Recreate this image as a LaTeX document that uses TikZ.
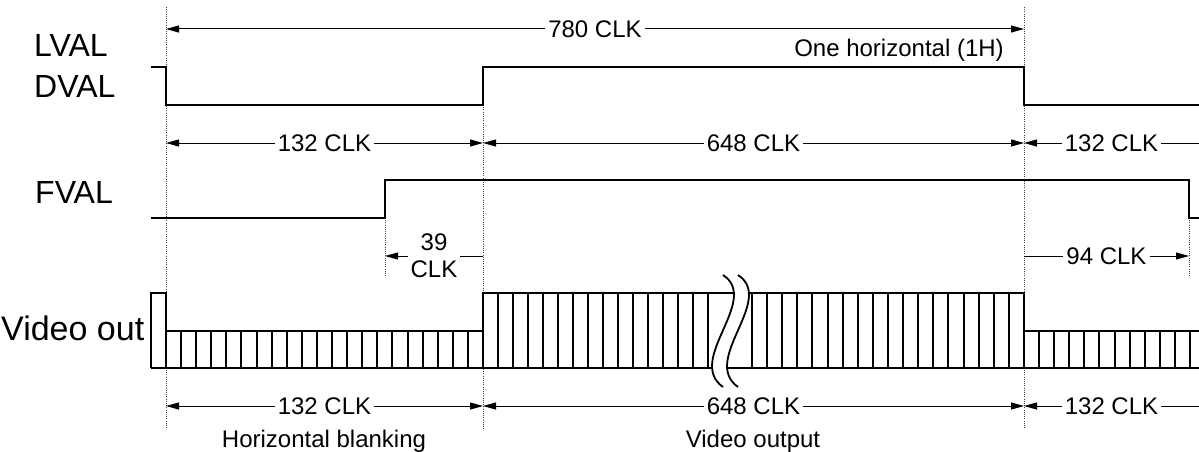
\documentclass[tikz,border=0pt]{standalone}
\usepackage{fontspec}
\setmainfont{Liberation Sans}
\usetikzlibrary{arrows.meta}
\begin{document}
\begin{tikzpicture}[x=1pt,y=-1pt,
  sig/.style={line width=2pt, line join=miter},
  box/.style={line width=2pt},
  dotline/.style={line width=0.8pt, black!75, dash pattern=on 1pt off 1.2pt},
  tipA/.tip={Triangle[length=13pt,width=7pt]},
  dimboth/.style={line width=1pt, tipA-tipA},
  dimleft/.style={line width=1pt, tipA-},
  dimright/.style={line width=1pt, -tipA},
  lab/.style={fill=white, inner xsep=3pt, inner ysep=1pt, font=\fontsize{24}{27}\selectfont},
  plain/.style={inner sep=0pt, font=\fontsize{24}{27}\selectfont},
  siglab/.style={inner sep=0pt, anchor=base west, font=\fontsize{32}{37}\selectfont}
]
\useasboundingbox (0,0) rectangle (1199,452);

% signal labels
\node[siglab] (lval) at (34,57) {LVAL};
\node[siglab] (dval) at (34,97) {DVAL};
\node[siglab] (fval) at (35,203) {FVAL};
\node[siglab, font=\fontsize{34}{39}\selectfont] (vout) at (1,340) {Video out};

% dotted reference lines
\draw[dotline] (166,7) -- (166,428);
\draw[dotline] (483,105) -- (483,430);
\draw[dotline] (1024,7) -- (1024,428);
\draw[dotline] (385,218) -- (385,277);
\draw[dotline] (1189,218) -- (1189,277);

% LVAL / DVAL
\draw[sig] (151,67) -- (166,67) -- (166,105) -- (483,105) -- (483,67) -- (1024,67) -- (1024,105) -- (1199,105);
% FVAL
\draw[sig] (151,218) -- (385,218) -- (385,180) -- (1189,180) -- (1189,218) -- (1199,218);

% dimension coordinates
\coordinate (a0) at (166,29);  \coordinate (a1) at (1024,29);
\coordinate (b0) at (166,143); \coordinate (b1) at (483,143); \coordinate (b2) at (1024,143); \coordinate (b3) at (1199,143);
\coordinate (c0) at (385,256); \coordinate (c1) at (483,256);
\coordinate (d0) at (1024,256); \coordinate (d1) at (1189,256);
\coordinate (e0) at (166,406); \coordinate (e1) at (483,406); \coordinate (e2) at (1024,406); \coordinate (e3) at (1199,406);

\draw[dimboth] (a0) -- node[lab] (l780) {780 CLK} (a1);
\node[plain, anchor=base] (oneh) at (899,57) {One horizontal (1H)};

\draw[dimboth] (b0) -- node[lab] (l132a) {132 CLK} (b1);
\draw[dimboth] (b1) -- node[lab] (l648a) {648 CLK} (b2);
\draw[dimleft] (b2) -- node[lab] (l132b) {132 CLK} (b3);

\draw[dimleft] (c0) -- node[lab, align=center, inner ysep=0pt] (l39) {39\\CLK} (c1);
\draw[dimright] (d0) -- node[lab] (l94) {94 CLK} (d1);

\draw[dimboth] (e0) -- node[lab] (l132c) {132 CLK} (e1);
\draw[dimboth] (e1) -- node[lab] (l648b) {648 CLK} (e2);
\draw[dimleft] (e2) -- node[lab] (l132d) {132 CLK} (e3);
\node[plain, anchor=base] (hblank) at (324,447) {Horizontal blanking};
\node[plain, anchor=base] (vidout) at (753,447) {Video output};

% Video out boxes
\draw[box, line join=miter] (151,368) -- (151,293) -- (166,293) -- (166,331) -- (483,331) -- (483,293) -- (1024,293) -- (1024,331) -- (1199,331);
\draw[box] (151,368) -- (1199,368);
\foreach \k in {0,...,21} \draw[box] ({round(166+15.095*\k)},331) -- ({round(166+15.095*\k)},368);
\foreach \k in {0,...,15} \draw[box] ({483+15*\k},293) -- ({483+15*\k},368);
\foreach \k in {0,...,18} \draw[box] ({round(752+15.111*\k)},293) -- ({round(752+15.111*\k)},368);
\foreach \k in {0,...,11} \draw[box] ({round(1024+15.09*\k)},331) -- ({round(1024+15.09*\k)},368);

% break mark
\fill[white] (723,275) .. controls (761,300) and (685,360) .. (723,387)
  -- (738,387) .. controls (700,360) and (776,300) .. (738,275) -- cycle;
\draw[line width=1.8pt] (723,275) .. controls (761,300) and (685,360) .. (723,387);
\draw[line width=1.8pt] (738,275) .. controls (776,300) and (700,360) .. (738,387);
\end{tikzpicture}
\end{document}
